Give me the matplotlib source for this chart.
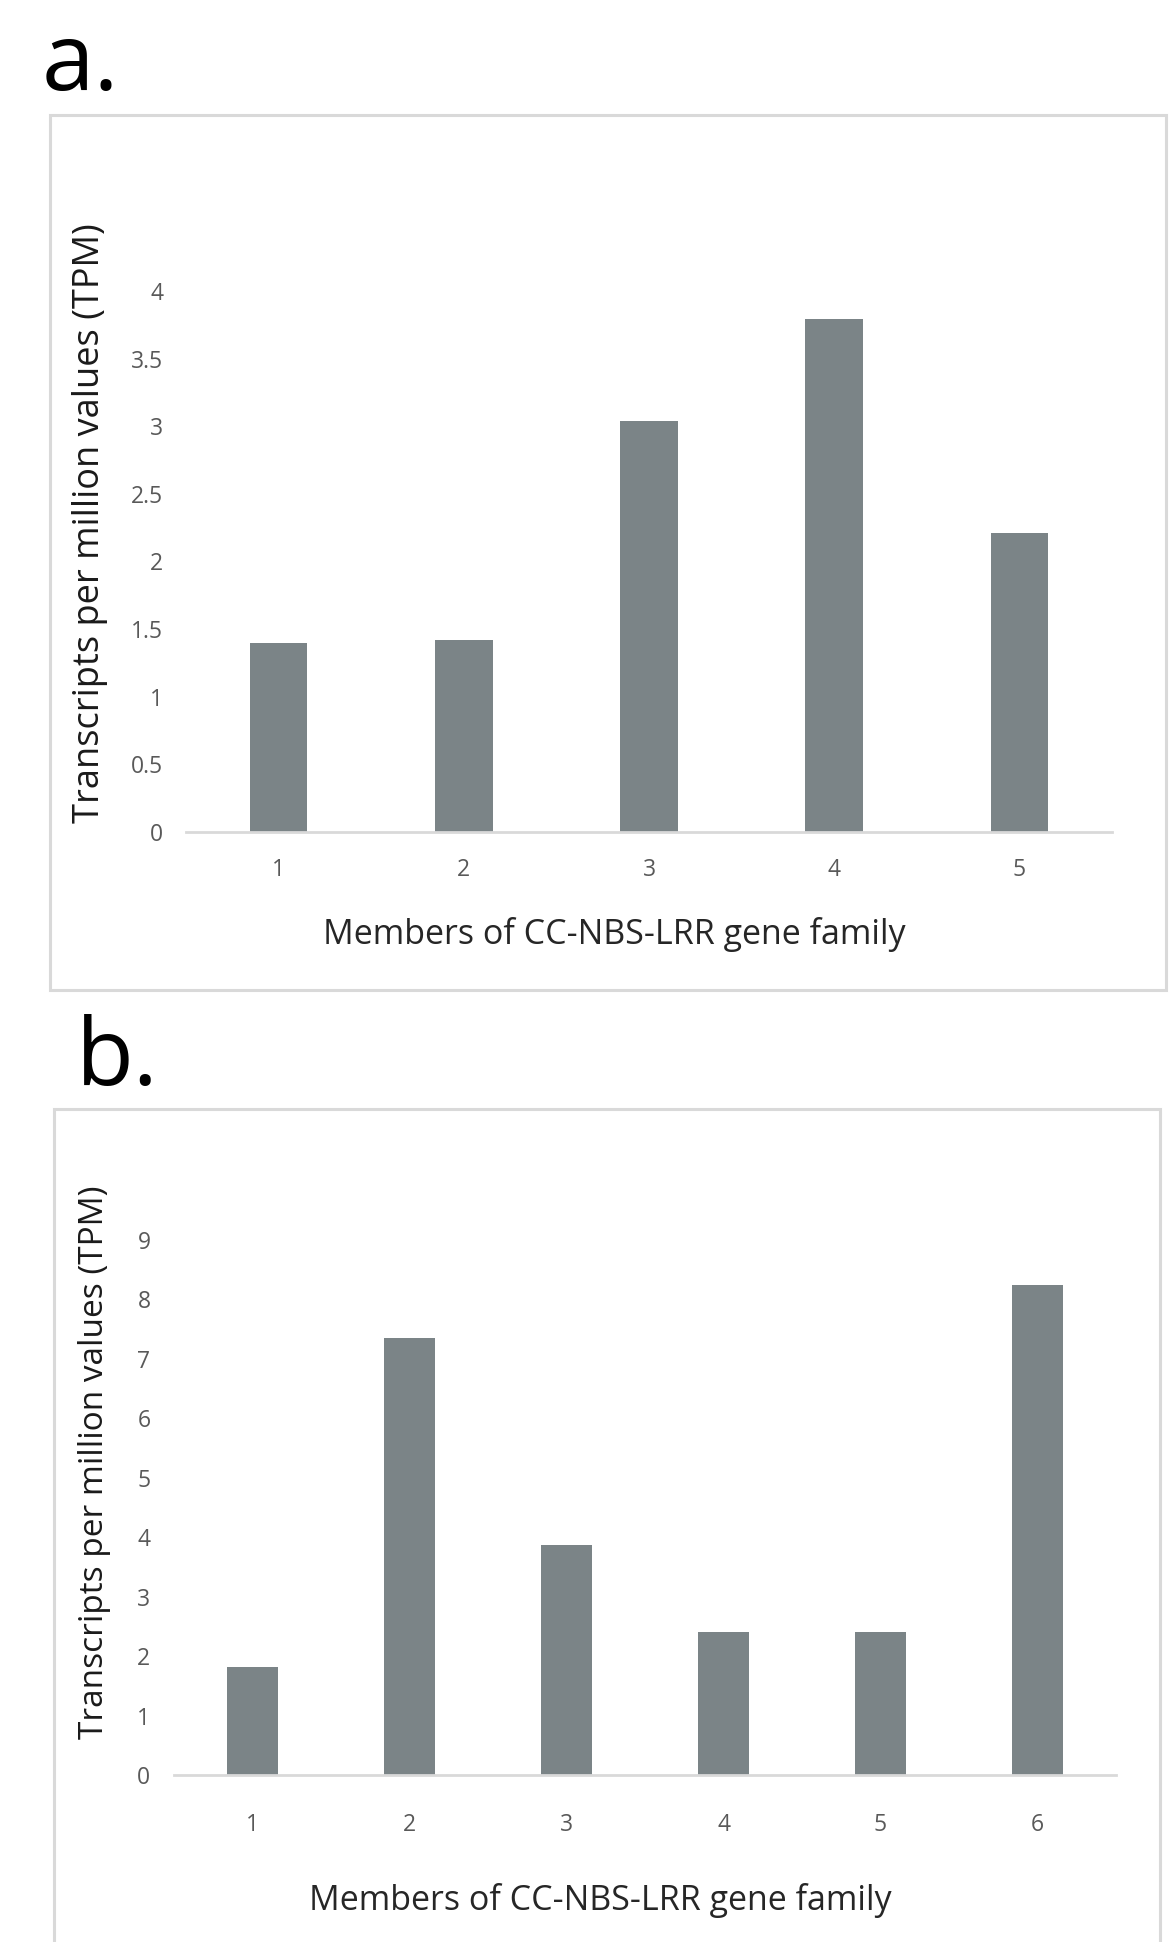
import matplotlib.pyplot as plt
import matplotlib.patches as patches

# 数据：两组 CC-NBS-LRR 家族成员的 TPM 值
members_a = ["1", "2", "3", "4", "5"]
tpm_a = [1.40, 1.42, 3.04, 3.79, 2.21]
yticks_a = [0, 0.5, 1, 1.5, 2, 2.5, 3, 3.5, 4]

members_b = ["1", "2", "3", "4", "5", "6"]
tpm_b = [1.82, 7.35, 3.87, 2.41, 2.41, 8.25]
yticks_b = [0, 1, 2, 3, 4, 5, 6, 7, 8, 9]

W, H = 1170, 1942
BAR = '#7b8487'
FRAME = '#d9d9d9'
TICK = '#595959'
FONT = ['Open Sans', 'DejaVu Sans']


def px_box(x0, y0, x1, y1):
    """像素坐标(左上原点) -> figure 坐标 [left, bottom, width, height]"""
    return [x0 / W, 1 - y1 / H, (x1 - x0) / W, (y1 - y0) / H]


def draw_panel(fig, letter, letter_xy, frame, axbox, cats, vals, yticks, ymax,
               bar_w, ylabel_xy, ylabel_size, xlabel_xy, xlabel_size,
               ypad, xpad):
    # 外框
    fx0, fy0, fx1, fy1 = frame
    fig.patches.append(patches.Rectangle(
        (fx0 / W, 1 - fy1 / H), (fx1 - fx0) / W, (fy1 - fy0) / H,
        transform=fig.transFigure, fill=False, edgecolor=FRAME, linewidth=2.2))
    fig.text(letter_xy[0] / W, 1 - letter_xy[1] / H, letter, fontsize=68,
             family=FONT, ha='left', va='baseline', color='black')

    ax = fig.add_axes(px_box(*axbox))
    ax.bar(cats, vals, width=bar_w, color=BAR)
    ax.set_ylim(0, ymax)
    ax.set_xlim(-0.5, len(cats) - 0.5)
    ax.set_yticks(yticks)
    ax.set_yticklabels([f"{t:g}" for t in yticks])
    for s in ['top', 'right', 'left']:
        ax.spines[s].set_visible(False)
    ax.spines['bottom'].set_color(FRAME)
    ax.spines['bottom'].set_linewidth(2.0)
    ax.tick_params(length=0, labelsize=16.5, labelcolor=TICK)
    ax.tick_params(axis='y', pad=ypad)
    ax.tick_params(axis='x', pad=xpad)
    for lab in ax.get_xticklabels() + ax.get_yticklabels():
        lab.set_family(FONT)

    fig.text(ylabel_xy[0] / W, 1 - ylabel_xy[1] / H,
             "Transcripts per million values (TPM)", rotation=90,
             fontsize=ylabel_size, family=FONT, ha='center', va='center',
             color='#1a1a1a')
    fig.text(xlabel_xy[0] / W, 1 - xlabel_xy[1] / H,
             "Members of CC-NBS-LRR gene family",
             fontsize=xlabel_size, family=FONT, ha='center', va='center',
             color='#262626')
    return ax


fig = plt.figure(figsize=(W / 100, H / 100), dpi=100)
fig.patch.set_facecolor('white')

draw_panel(fig, "a.", (42, 90), (50, 115, 1166, 990), (186, 291, 1112, 832),
           members_a, tpm_a, yticks_a, 4.0, 0.31, (90, 523), 26,
           (614, 934), 24.5, 16.5, 19)
draw_panel(fig, "b.", (76, 1085), (54, 1109, 1160, 2000), (174, 1240, 1116, 1775),
           members_b, tpm_b, yticks_b, 9.0, 0.32, (95, 1462), 24,
           (600, 1900), 24.5, 17, 27)

fig.savefig("out.png", dpi=100, facecolor='white')
